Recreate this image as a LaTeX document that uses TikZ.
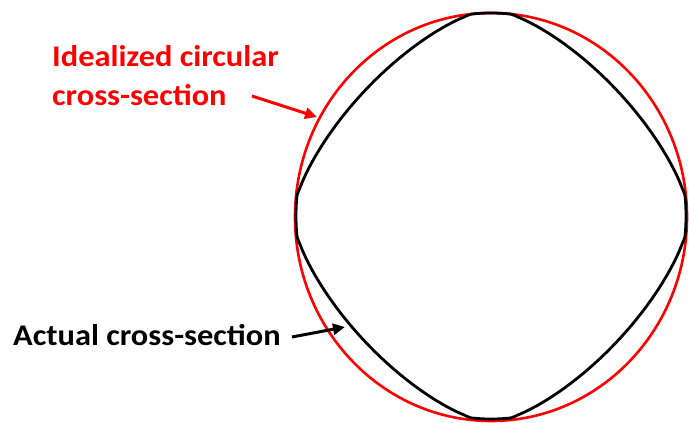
\documentclass[tikz,border=0pt]{standalone}
\usepackage{fontspec}
\setmainfont{Carlito}
\usetikzlibrary{arrows.meta}
\tikzset{
  lbl/.style={anchor=base west, inner sep=0pt, font=\bfseries\fontsize{30}{36}\selectfont},
  ptr/.style={line width=3pt, -{Triangle[length=12pt,width=11pt]}},
  declare function={rse(\t)=min(1,1.02/((abs(cos(\t))+0.00001)^1.45+(abs(sin(\t))+0.00001)^1.45)^(0.6897));},
}
\newcommand{\wide}[1]{\scalebox{1.08}[1]{#1}}
\begin{document}
\begin{tikzpicture}[x=1pt,y=-1pt]
\useasboundingbox (0,0) rectangle (689,423);
% idealized circle
\draw[red, line width=2.6pt] (491,217) ellipse [x radius=196, y radius=204];
% actual cross-section
\draw[black, line width=2.8pt, line join=round] plot[domain=0:360, samples=361]
  ({491+195*rse(\x)*cos(\x)},{216-203*rse(\x)*sin(\x)}) -- cycle;
% labels
\node[lbl, text=red] (ideal1) at (52,66) {\wide{Idealized circular}};
\node[lbl, text=red] (ideal2) at (52,105) {\wide{cross-section}};
\node[lbl, text=black] (actual) at (13,345) {\wide{Actual cross-section}};
% arrows
\coordinate (rs) at (252,96);
\coordinate (re) at (317,117);
\coordinate (bs) at (292,337);
\coordinate (be) at (345,327);
\draw[ptr, red] (rs) -- (re);
\draw[ptr, black] (bs) -- (be);
\end{tikzpicture}
\end{document}
